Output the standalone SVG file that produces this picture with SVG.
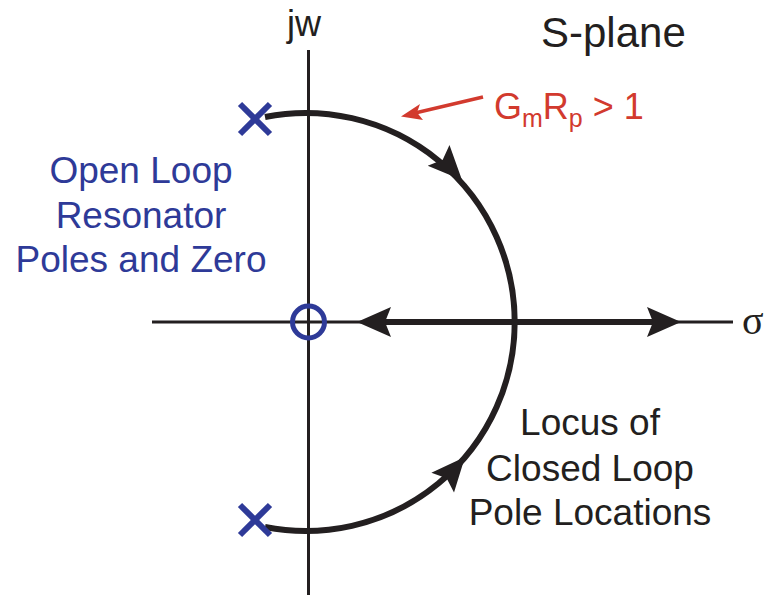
<svg xmlns="http://www.w3.org/2000/svg" width="774" height="595" viewBox="0 0 774 595">
<defs>
<style>
.axis{stroke:#231F20;stroke-width:3;fill:none}
.locus{stroke:#231F20;stroke-width:6;fill:none}
.head{fill:#231F20}
.blue{stroke:#2E3A98;stroke-width:6;fill:none}
.txt{font-family:"Liberation Sans",Arial,sans-serif;fill:#231F20}
.btxt{font-family:"Liberation Sans",Arial,sans-serif;fill:#2E3A98;font-size:37px;text-anchor:middle}
.rtxt{font-family:"Liberation Sans",Arial,sans-serif;fill:#D23A2E;font-size:36px}
</style>
<path id="ah" d="M0,0 L-34,-15 L-28,0 L-34,15 Z"/>
</defs>
<rect width="774" height="595" fill="#FFFFFF"/>
<g id="axes">
<line class="axis" x1="308.5" y1="50" x2="308.5" y2="595"/>
<line class="axis" x1="152" y1="322" x2="733" y2="322"/>
<text class="txt" x="287" y="36" font-size="36">jw</text>
<text x="742" y="334" font-family="'Liberation Serif','Times New Roman',serif" font-size="40" fill="#231F20">σ</text>
</g>
<g id="connectors">
<path class="locus" d="M265,117 A209,209 0 1 1 265,527"/>
<use href="#ah" class="head" transform="translate(462,180) rotate(46.5)"/>
<use href="#ah" class="head" transform="translate(465,457) rotate(-49)"/>
<line class="locus" x1="380" y1="322" x2="660" y2="322"/>
<use href="#ah" class="head" transform="translate(357,322) rotate(180)"/>
<use href="#ah" class="head" transform="translate(681,322)"/>
<line x1="483" y1="97" x2="415" y2="113" stroke="#D23A2E" stroke-width="3.5"/>
<path d="M401,116.5 L420,104 L417,112.5 L423,120 Z" fill="#D23A2E"/>
</g>
<g id="pole-upper">
<line class="blue" x1="240" y1="104" x2="270" y2="134"/>
<line class="blue" x1="270" y1="104" x2="240" y2="134"/>
</g>
<g id="pole-lower">
<line class="blue" x1="240" y1="505" x2="270" y2="535"/>
<line class="blue" x1="270" y1="505" x2="240" y2="535"/>
</g>
<g id="zero">
<circle cx="308.5" cy="322" r="16" stroke="#2E3A98" stroke-width="5" fill="none"/>
</g>
<g id="label-splane">
<text class="txt" x="541" y="47" font-size="42">S-plane</text>
</g>
<g id="label-gain">
<text class="rtxt" x="494" y="119">G<tspan font-size="25" dy="8">m</tspan><tspan dy="-8">R</tspan><tspan font-size="25" dy="8">p</tspan><tspan dy="-8"> &gt; 1</tspan></text>
</g>
<g id="label-open-loop">
<text class="btxt" x="141" y="183">Open Loop</text>
<text class="btxt" x="141" y="228">Resonator</text>
<text class="btxt" x="141" y="272">Poles and Zero</text>
</g>
<g id="label-locus">
<text class="txt" x="590" y="435" font-size="37" text-anchor="middle">Locus of</text>
<text class="txt" x="590" y="481" font-size="37" text-anchor="middle">Closed Loop</text>
<text class="txt" x="590" y="525" font-size="37" text-anchor="middle">Pole Locations</text>
</g>
</svg>
